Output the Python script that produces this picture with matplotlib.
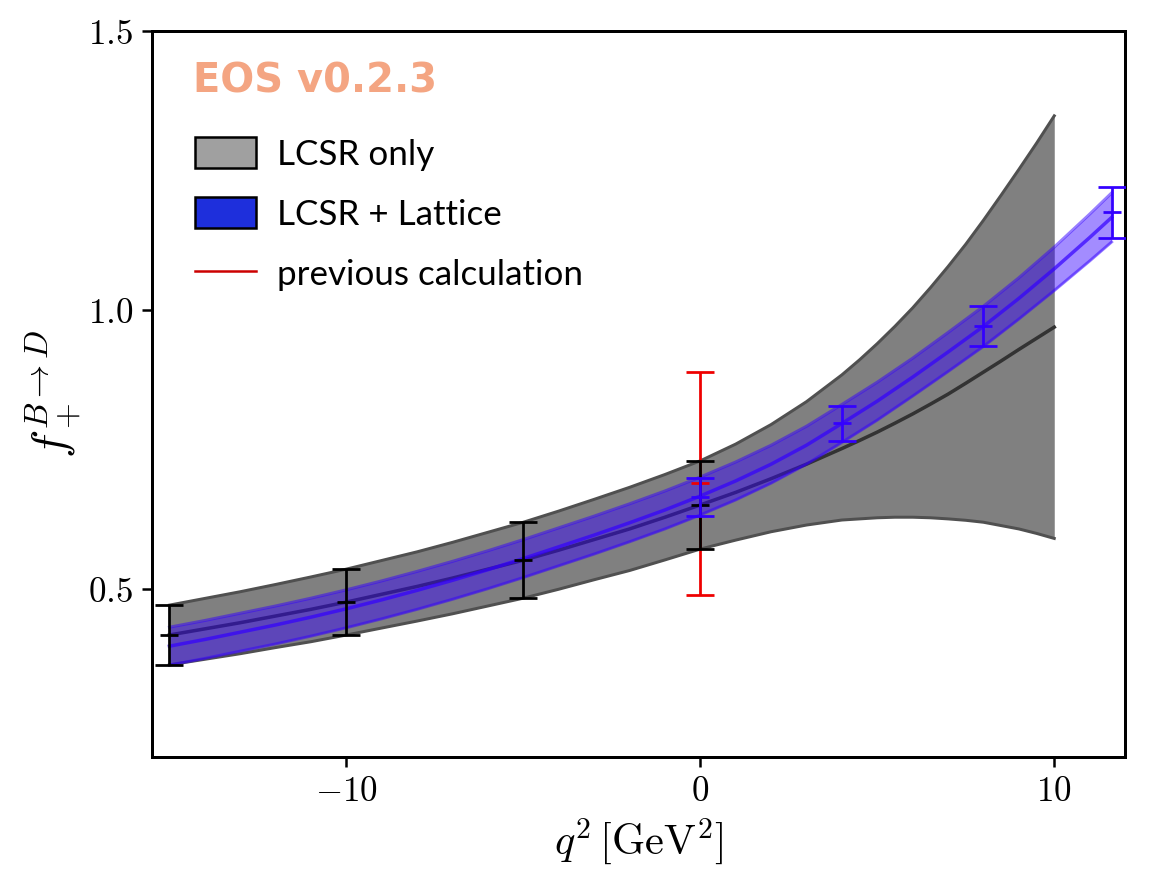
import matplotlib
matplotlib.use("Agg")
import matplotlib.pyplot as plt
from matplotlib.patches import Patch
from matplotlib.lines import Line2D

plt.rcParams['mathtext.fontset'] = 'cm'
plt.rcParams['font.family'] = ['Lato', 'DejaVu Sans']

# ---------------- data ----------------
lcsr_q2 = [-15, -14, -13, -12, -11, -10, -9, -8, -7, -6, -5, -4, -3, -2, -1,
           0, 1, 2, 3, 4, 4.5, 5, 5.5, 6, 6.5, 7, 7.5, 8, 8.5, 9, 9.5, 10]
lcsr_central = [0.418, 0.429, 0.440, 0.452, 0.464, 0.477, 0.491, 0.505, 0.520, 0.536,
                0.552, 0.570, 0.589, 0.608, 0.629, 0.651, 0.6735, 0.698, 0.724, 0.752,
                0.7665, 0.7815, 0.7975, 0.814, 0.8315, 0.8495, 0.869, 0.889, 0.909,
                0.9295, 0.9495, 0.9695]
lcsr_upper = [0.4715, 0.4835, 0.4955, 0.5085, 0.522, 0.536, 0.5515, 0.567, 0.584, 0.602,
              0.620, 0.640, 0.661, 0.6825, 0.7055, 0.730, 0.760, 0.795, 0.836, 0.884,
              0.911, 0.940, 0.971, 1.004, 1.040, 1.078, 1.118, 1.161, 1.206,
              1.252, 1.299, 1.348]
lcsr_lower = [0.3645, 0.3745, 0.3845, 0.3955, 0.406, 0.418, 0.4305, 0.443, 0.456, 0.470,
              0.484, 0.500, 0.517, 0.5335, 0.5525, 0.572, 0.588, 0.603, 0.615, 0.624,
              0.626, 0.628, 0.629, 0.629, 0.628, 0.626, 0.6235, 0.620, 0.614,
              0.608, 0.600, 0.591]

latt_q2 = [-15, -14, -13, -12, -11, -10, -9, -8, -7, -6, -5, -4, -3, -2, -1,
           0, 1, 2, 3, 4, 5, 6, 7, 8, 9, 10, 11, 11.62]
latt_central = [0.398, 0.410, 0.423, 0.436, 0.450, 0.465, 0.481, 0.498, 0.516, 0.535,
                0.555, 0.576, 0.597, 0.619, 0.642, 0.667, 0.694, 0.724, 0.758, 0.797,
                0.837, 0.880, 0.925, 0.971, 1.021, 1.074, 1.130, 1.166]
latt_upper = [0.432, 0.444, 0.457, 0.470, 0.484, 0.499, 0.515, 0.532, 0.550, 0.569,
              0.589, 0.610, 0.631, 0.653, 0.676, 0.701, 0.728, 0.758, 0.792, 0.831,
              0.871, 0.914, 0.960, 1.007, 1.058, 1.113, 1.172, 1.210]
latt_lower = [0.364, 0.376, 0.389, 0.402, 0.416, 0.431, 0.447, 0.464, 0.482, 0.501,
              0.521, 0.542, 0.563, 0.585, 0.608, 0.633, 0.660, 0.690, 0.724, 0.763,
              0.803, 0.846, 0.890, 0.935, 0.984, 1.035, 1.088, 1.122]

lcsr_pts_q2 = [-15, -10, -5, 0]
lcsr_pts_val = [0.418, 0.477, 0.552, 0.651]
lcsr_pts_err = [0.053, 0.059, 0.068, 0.079]

latt_pts_q2 = [0, 4, 8, 11.62]
latt_pts_val = [0.666, 0.797, 0.971, 1.175]
latt_pts_err = [0.034, 0.032, 0.036, 0.045]

prev_q2 = [0]
prev_val = [0.69]
prev_err = [0.20]

legend_labels = ['LCSR only', 'LCSR + Lattice', 'previous calculation']
watermark = 'EOS v0.2.3'

# ---------------- figure ----------------
fig = plt.figure(figsize=(6.4, 881 / 180), dpi=180)
ax = fig.add_axes([0.1317, 0.1411, 0.9766 - 0.1317, 0.9648 - 0.1411])

# LCSR-only band
ax.fill_between(lcsr_q2, lcsr_lower, lcsr_upper, color='#808080', lw=0, zorder=1)
ax.plot(lcsr_q2, lcsr_upper, color='#505050', lw=1.2, zorder=2)
ax.plot(lcsr_q2, lcsr_lower, color='#505050', lw=1.2, zorder=2)
ax.plot(lcsr_q2, lcsr_central, color='#333333', lw=1.4, zorder=2)

# LCSR + Lattice band
blue = '#3300ff'
ax.fill_between(latt_q2, latt_lower, latt_upper, color=blue, alpha=0.45, lw=0, zorder=3)
ax.plot(latt_q2, latt_upper, color=blue, alpha=0.5, lw=1.2, zorder=3)
ax.plot(latt_q2, latt_lower, color=blue, alpha=0.5, lw=1.2, zorder=3)
ax.plot(latt_q2, latt_central, color=blue, alpha=0.7, lw=1.4, zorder=3)

# error bars
ekw = dict(fmt='_', ms=7, mew=1.1, elinewidth=1.1, capsize=5.5, capthick=1.1)
ax.errorbar(lcsr_pts_q2, lcsr_pts_val, yerr=lcsr_pts_err, color='black', zorder=5, **ekw)
ax.errorbar(latt_pts_q2, latt_pts_val, yerr=latt_pts_err, color=blue, zorder=6, **ekw)
ax.errorbar(prev_q2, prev_val, yerr=prev_err, color='#ee0000', zorder=4, **ekw)

ax.set_xlim(-15.5, 12.0)
ax.set_ylim(0.2, 1.5)
ax.set_xticks([-10, 0, 10])
ax.set_yticks([0.5, 1.0, 1.5])
ax.set_xticklabels([r'$-10$', r'$0$', r'$10$'])
ax.set_yticklabels([r'$0.5$', r'$1.0$', r'$1.5$'])
ax.tick_params(axis='both', which='major', labelsize=14, length=4, width=1.0,
               direction='out', top=False, right=False)
for s in ax.spines.values():
    s.set_linewidth(1.2)

ax.set_xlabel(r'$q^2\,[\mathrm{GeV}^2]$', fontsize=17, labelpad=4)
ax.set_ylabel(r'$f_+^{B\to D}$', fontsize=19, labelpad=2)

ax.text(0.042, 0.931, watermark, transform=ax.transAxes, fontsize=16,
        fontweight='bold', color='#f4a582', ha='left', va='center',
        family=['DejaVu Sans'])

handles = [Patch(facecolor='#a0a0a0', edgecolor='black', lw=1.0),
           Patch(facecolor='#1e2fdc', edgecolor='black', lw=1.0),
           Line2D([], [], color='#cc0000', lw=1.0)]
ax.legend(handles, legend_labels, loc='upper left', bbox_to_anchor=(0.03, 0.873),
          frameon=False, fontsize=14, handlelength=1.75, handleheight=1.0,
          handletextpad=0.6, labelspacing=0.75, borderaxespad=0.0)

fig.savefig('out.png', dpi=180)
